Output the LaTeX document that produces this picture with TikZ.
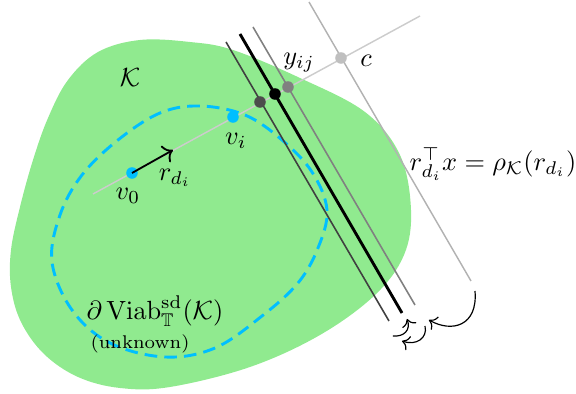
\documentclass[tikz,border=0pt]{standalone}
\usepackage{amssymb}
\usetikzlibrary{arrows.meta}
\definecolor{kgreen}{HTML}{90EA8F}
\definecolor{vcyan}{HTML}{00BFFF}
\begin{document}
\begin{tikzpicture}[x=0.38pt,y=-0.38pt,
  dot/.style={circle,inner sep=0pt,minimum size=4.4pt},
  lbl/.style={inner sep=0pt},
  rot/.style={-{To[scale=1.05]},line width=0.45pt}]
\useasboundingbox (0,0) rectangle (576,394);
% set K
\fill[kgreen] plot[smooth cycle, tension=0.6] coordinates {
 (140,40) (190,42) (233,50) (300,78) (365,112) (400,155) (411,210) (404,255)
 (375,295) (320,335) (250,367) (170,387) (120,388) (78,377) (44,354) (21,322)
 (11,287) (11,250) (20,207) (33,160) (48,118) (68,80) (98,52)};
% unknown viability boundary
\draw[vcyan,line width=1.1pt,dash pattern=on 4.8pt off 2.7pt] plot[smooth cycle, tension=0.6] coordinates {
 (200,106) (245,115) (282,140) (312,172) (327,210) (318,248) (298,283) (262,316)
 (215,348) (165,357) (110,343) (72,310) (52,262) (60,215) (82,175) (118,140) (160,113)};
% ray
\coordinate (rs) at (93,194);
\coordinate (re) at (420,16);
\draw[black!20,line width=0.55pt] (rs) -- (re);
% supporting / candidate lines
\coordinate (l1a) at (226,42);  \coordinate (l1b) at (389,321);
\coordinate (l2a) at (240,34);  \coordinate (l2b) at (402,313);
\coordinate (l3a) at (253,27);  \coordinate (l3b) at (415,305);
\coordinate (l4a) at (309,2);   \coordinate (l4b) at (471,281);
\draw[black!30,line width=0.55pt] (l4a) -- (l4b);
\draw[black!50,line width=0.6pt] (l3a) -- (l3b);
\draw[black!75,line width=0.6pt] (l1a) -- (l1b);
\draw[black,line width=1.1pt] (l2a) -- (l2b);
% points
\node[dot,fill=vcyan] (v0) at (132,173) {};
\node[dot,fill=vcyan] (vi) at (233,117) {};
\node[dot,fill=black!70] (p1) at (260,102) {};
\node[dot,fill=black] (p2) at (275,94) {};
\node[dot,fill=black!50] (p3) at (288,87) {};
\node[dot,fill=black!25] (c) at (341,58) {};
% direction arrow
\coordinate (rt) at (173,150);
\draw[-{To[scale=1.1]},line width=0.7pt] (v0.center) -- (rt);
% rotation arrows
\coordinate (a1s) at (475,291); \coordinate (a1e) at (429,320);
\draw[rot] (a1s) .. controls (478,326) and (452,333) .. (a1e);
\coordinate (a2s) at (393,336); \coordinate (a2e) at (407,319);
\draw[rot] (a2s) .. controls (404,337) and (411,330) .. (a2e);
\coordinate (a3s) at (425,326); \coordinate (a3e) at (402,341);
\draw[rot] (a3s) .. controls (428,338) and (416,346) .. (a3e);
% labels
\node[lbl] (kl) at (130,78) {$\mathcal{K}$};
\node[lbl] (v0l) at (128,196) {$v_0$};
\node[lbl] (rl) at (175,178) {$r_{d_i}$};
\node[lbl] (vil) at (236,141) {$v_i$};
\node[lbl] (yl) at (299,63) {$y_{ij}$};
\node[lbl] (cl) at (366,61) {$c$};
\node[lbl] (hl) at (493,164) {$r_{d_i}^{\top}x=\rho_{\mathcal{K}}(r_{d_i})$};
\node[lbl] (vb) at (155,311) {$\partial\,\mathrm{Viab}^{\mathrm{sd}}_{\mathbb{T}}(\mathcal{K})$};
\node[lbl,font=\scriptsize] (un) at (140,344) {(unknown)};
\end{tikzpicture}
\end{document}
